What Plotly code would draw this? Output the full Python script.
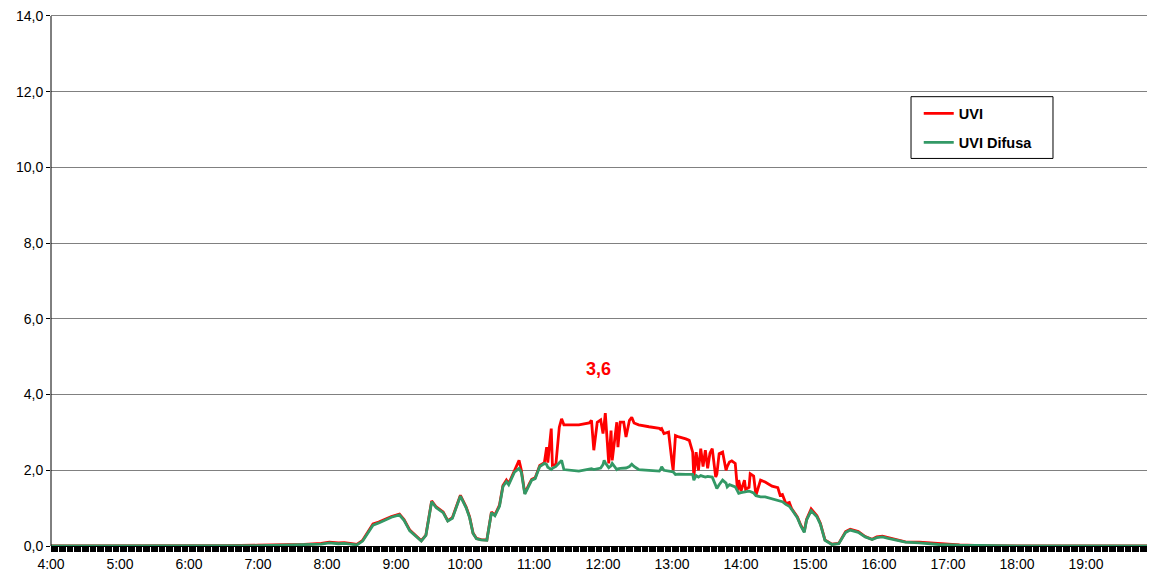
import plotly.graph_objects as go

# ---- data ----
times = ["4:00", "5:00", "6:00", "6:30", "7:00", "7:20", "7:40", "7:55", "8:02", "8:10",
         "8:15", "8:20", "8:26", "8:31", "8:35", "8:40", "8:45", "8:50", "8:56", "9:03",
         "9:07", "9:12", "9:16", "9:22", "9:26", "9:31", "9:35", "9:41", "9:45", "9:49",
         "9:56", "10:01", "10:04", "10:07", "10:10", "10:14", "10:19", "10:23", "10:26", "10:30",
         "10:33", "10:36", "10:38", "10:43", "10:47", "10:49", "10:52", "10:56", "10:58", "11:01",
         "11:05", "11:09", "11:11", "11:12", "11:15", "11:16", "11:19", "11:22", "11:24", "11:26",
         "11:39", "11:48", "11:50", "11:52", "11:55", "11:58", "12:00", "12:01", "12:02", "12:05",
         "12:07", "12:08", "12:12", "12:13", "12:15", "12:18", "12:20", "12:23", "12:25", "12:27",
         "12:31", "12:40", "12:49", "12:50", "12:51", "12:53", "12:57", "13:00", "13:01", "13:03",
         "13:06", "13:12", "13:15", "13:18", "13:19", "13:21", "13:23", "13:25", "13:27", "13:29",
         "13:31", "13:33", "13:35", "13:38", "13:39", "13:41", "13:44", "13:47", "13:48", "13:50",
         "13:52", "13:55", "13:57", "13:58", "14:00", "14:03", "14:04", "14:07", "14:08", "14:11",
         "14:13", "14:17", "14:21", "14:27", "14:32", "14:34", "14:36", "14:39", "14:42", "14:44",
         "14:49", "14:52", "14:55", "14:57", "15:01", "15:06", "15:09", "15:13", "15:19", "15:25",
         "15:31", "15:35", "15:42", "15:48", "15:54", "15:58", "16:03", "16:08", "16:14", "16:23",
         "16:35", "16:52", "17:10", "17:30", "18:00", "19:00", "19:59"]

uvi = [0.00, 0.00, 0.00, 0.01, 0.02, 0.03, 0.04, 0.07, 0.10, 0.08,
       0.09, 0.07, 0.04, 0.15, 0.35, 0.58, 0.63, 0.70, 0.78, 0.84,
       0.70, 0.42, 0.30, 0.14, 0.29, 1.19, 1.03, 0.90, 0.67, 0.75,
       1.34, 1.03, 0.77, 0.34, 0.20, 0.17, 0.16, 0.90, 0.82, 1.08,
       1.60, 1.74, 1.65, 2.00, 2.26, 2.00, 1.39, 1.65, 1.76, 1.80,
       2.13, 2.20, 2.61, 2.20, 3.10, 2.13, 2.15, 3.14, 3.36, 3.20,
       3.20, 3.25, 3.32, 2.53, 3.27, 3.33, 2.97, 3.20, 3.51, 2.18,
       3.05, 2.26, 3.27, 2.61, 3.27, 3.27, 2.88, 3.32, 3.40, 3.25,
       3.20, 3.15, 3.11, 3.08, 3.10, 2.97, 3.01, 2.22, 2.00, 2.92,
       2.88, 2.83, 2.79, 2.48, 1.82, 2.48, 2.00, 2.57, 2.10, 2.53,
       2.05, 2.45, 2.57, 1.82, 1.90, 2.44, 2.48, 2.00, 2.10, 2.22,
       2.25, 2.18, 1.47, 1.74, 1.45, 1.74, 1.50, 1.55, 1.91, 1.85,
       1.34, 1.74, 1.69, 1.58, 1.54, 1.34, 1.36, 1.12, 1.15, 0.99,
       0.77, 0.55, 0.38, 0.70, 0.98, 0.80, 0.60, 0.16, 0.05, 0.07,
       0.38, 0.44, 0.38, 0.25, 0.18, 0.24, 0.26, 0.22, 0.18, 0.11,
       0.10, 0.06, 0.03, 0.01, 0.00, 0.00, 0.00]

uvi_difusa = [0.00, 0.00, 0.00, 0.00, 0.01, 0.02, 0.03, 0.05, 0.08, 0.06,
              0.07, 0.05, 0.03, 0.13, 0.33, 0.55, 0.61, 0.68, 0.76, 0.82,
              0.68, 0.40, 0.29, 0.13, 0.28, 1.17, 1.01, 0.88, 0.66, 0.73,
              1.32, 1.01, 0.75, 0.33, 0.19, 0.16, 0.15, 0.88, 0.80, 1.05,
              1.57, 1.70, 1.62, 1.95, 2.05, 1.95, 1.37, 1.62, 1.74, 1.78,
              2.10, 2.18, 2.15, 2.08, 2.02, 2.05, 2.10, 2.20, 2.26, 2.02,
              1.98, 2.03, 2.04, 2.02, 2.05, 2.06, 2.15, 2.26, 2.20, 2.07,
              2.12, 2.18, 2.02, 2.04, 2.05, 2.06, 2.06, 2.10, 2.16, 2.10,
              2.02, 2.00, 1.98, 2.02, 2.09, 2.00, 1.97, 1.96, 1.96, 1.89,
              1.90, 1.89, 1.89, 1.89, 1.74, 1.86, 1.82, 1.86, 1.84, 1.82,
              1.84, 1.82, 1.82, 1.60, 1.52, 1.62, 1.74, 1.66, 1.56, 1.62,
              1.60, 1.56, 1.45, 1.39, 1.41, 1.43, 1.44, 1.45, 1.44, 1.40,
              1.33, 1.30, 1.30, 1.25, 1.21, 1.20, 1.17, 1.10, 1.05, 0.97,
              0.75, 0.53, 0.36, 0.68, 0.93, 0.77, 0.58, 0.15, 0.04, 0.06,
              0.36, 0.42, 0.36, 0.24, 0.17, 0.22, 0.24, 0.20, 0.16, 0.10,
              0.08, 0.04, 0.02, 0.01, 0.00, 0.00, 0.00]

hour_ticks = [4, 5, 6, 7, 8, 9, 10, 11, 12, 13, 14, 15, 16, 17, 18, 19]
hour_labels = ["4:00", "5:00", "6:00", "7:00", "8:00", "9:00", "10:00", "11:00",
               "12:00", "13:00", "14:00", "15:00", "16:00", "17:00", "18:00", "19:00"]
y_ticks = [0, 2, 4, 6, 8, 10, 12, 14]

max_label = "3,6"
max_label_time = "11:56"
max_label_y = 4.68


def to_hours(s):
    h, m = s.split(":")
    return int(h) + int(m) / 60.0


x_hours = [to_hours(t) for t in times]

FONT = "Liberation Sans, Arial, sans-serif"

fig = go.Figure()
fig.add_trace(go.Scatter(x=x_hours, y=uvi, mode="lines", name="UVI",
                         legendgroup="a",
                         line=dict(color="#FF0000", width=2.8)))
fig.add_trace(go.Scatter(x=x_hours, y=uvi_difusa, mode="lines", name="UVI Difusa",
                         legendgroup="b",
                         line=dict(color="#339966", width=2.8)))

fig.add_annotation(x=to_hours(max_label_time), y=max_label_y, text=max_label,
                   showarrow=False, xref="x", yref="y",
                   font=dict(family=FONT, size=18, color="#FF0000", weight="bold"))

# legend frame (paper coords, plot area 534 px tall)
fig.add_shape(type="rect", xref="paper", yref="paper",
              x0=0.779, x1=0.9076, y0=0.7285, y1=0.8446,
              line=dict(color="#000000", width=1), fillcolor="rgba(0,0,0,0)", layer="above")

fig.update_layout(
    width=1147, height=569,
    margin=dict(l=43, r=0, t=4, b=31),
    paper_bgcolor="white", plot_bgcolor="white",
    separators=",.",
    font=dict(family=FONT, size=14, color="#000000"),
    showlegend=True,
    legend=dict(x=0.786, y=0.843, xanchor="left", yanchor="top",
                borderwidth=0, bgcolor="rgba(255,255,255,0)",
                font=dict(family=FONT, size=14.5, weight="bold", color="#000000"),
                tracegroupgap=7, itemwidth=30),
)

fig.update_xaxes(range=[4, 20], tickmode="array", tickvals=hour_ticks, ticktext=hour_labels,
                 showgrid=False, zeroline=False, showline=True, linecolor="#000000",
                 linewidth=1, ticks="outside", ticklen=5, tickcolor="#000000",
                 tickfont=dict(size=14), ticklabeloverflow="allow",
                 minor=dict(dtick=1 / 60, tick0=4, ticks="outside", ticklen=5,
                            tickcolor="#000000", tickwidth=1, showgrid=False))

fig.update_yaxes(range=[0, 14 * 534 / 532], tickmode="array", tickvals=y_ticks, tickformat=".1f",
                 showgrid=True, gridcolor="#808080", gridwidth=1, zeroline=False,
                 showline=False,
                 ticks="outside", ticklen=4, tickcolor="#000000",
                 tickfont=dict(size=14), ticklabeloverflow="allow")

# vertical value-axis line, drawn from 0 to 14 like the reference
fig.add_shape(type="line", xref="paper", yref="y", x0=0, x1=0, y0=0, y1=14,
              line=dict(color="#000000", width=1), layer="above")

fig.write_html("out.html")
